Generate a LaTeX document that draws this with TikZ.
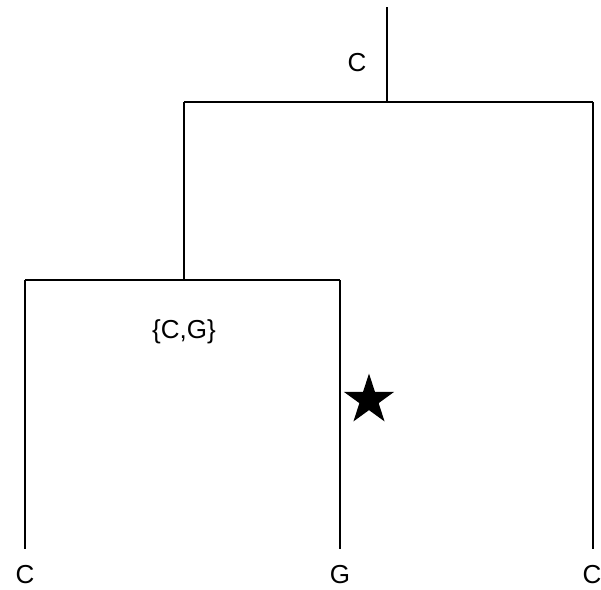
\documentclass[tikz,border=0pt]{standalone}
\usepackage{fontspec}
\setmainfont{Liberation Sans}
\usetikzlibrary{shapes.geometric}
\begin{document}
\begin{tikzpicture}[x=1pt,y=-1pt,
  branch/.style={line width=2.8pt},
  lbl/.style={font=\fontsize{26}{30}\selectfont, inner sep=0pt}]
\useasboundingbox (0,0) rectangle (601,589);
% junctions and ends
\coordinate (top) at (387,7);
\coordinate (root) at (387,102);
\coordinate (rl) at (184,102);
\coordinate (rr) at (593,102);
\coordinate (inner) at (184,280);
\coordinate (il) at (25,280);
\coordinate (ir) at (340,280);
\coordinate (leafA) at (25,549);
\coordinate (leafB) at (340,549);
\coordinate (leafC) at (593,549);
% branches
\draw[branch] (top) -- (root);
\draw[branch] (rl) -- (rr);
\draw[branch] (rl) -- (inner);
\draw[branch] (il) -- (ir);
\draw[branch] (il) -- (leafA);
\draw[branch] (ir) -- (leafB);
\draw[branch] (rr) -- (leafC);
% labels
\node[lbl] (lA) at (25,575) {C};
\node[lbl] (lB) at (340,575) {G};
\node[lbl] (lC) at (592,575) {C};
\node[lbl] (rootlbl) at (357,63) {C};
\node[lbl] (innerlbl) at (184,332) {\{C,G\}};
% star
\node[star, star points=5, star point ratio=2.618, minimum size=53pt, inner sep=0pt, fill=black, draw=none] (mut) at (369,400) {};
\end{tikzpicture}
\end{document}
